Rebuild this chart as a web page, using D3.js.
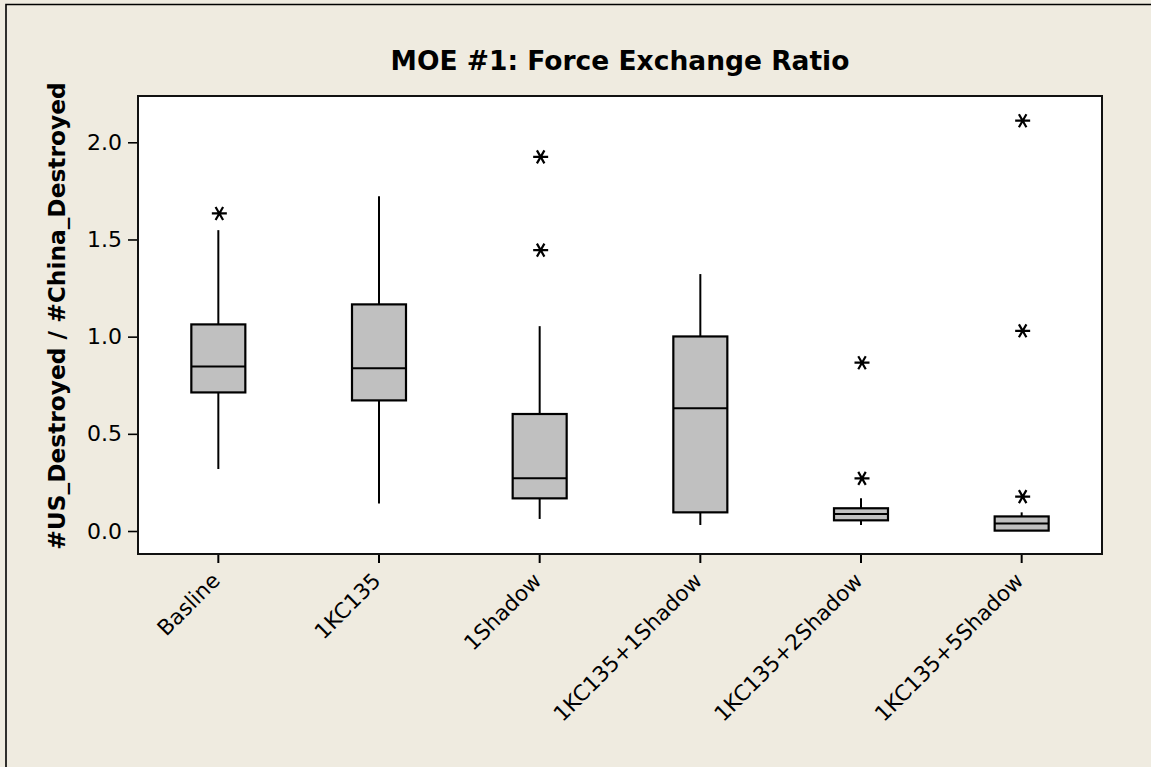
<!DOCTYPE html>
<html>
<head>
<meta charset="utf-8">
<script src="https://cdn.jsdelivr.net/npm/d3@7/dist/d3.min.js"></script>
<style>
  html, body { margin: 0; padding: 0; background: #efebe0; overflow: hidden; }
  svg { display: block; overflow: hidden; }
</style>
</head>
<body>
<svg id="chart" width="1151" height="767"></svg>
<script>
// ---- data ----
const categories = ["Basline", "1KC135", "1Shadow", "1KC135+1Shadow", "1KC135+2Shadow", "1KC135+5Shadow"];
const whiskerLow  = [0.319, 0.142, 0.062, 0.031, 0.031, 0.000];
const q1          = [0.713, 0.672, 0.168, 0.096, 0.055, 0.002];
const median      = [0.847, 0.837, 0.271, 0.631, 0.087, 0.038];
const q3          = [1.063, 1.166, 0.602, 1.001, 0.117, 0.075];
const whiskerHigh = [1.548, 1.723, 1.054, 1.322, 0.168, 0.096];
const outliers    = [[1.634], [], [1.925, 1.445], [], [0.866, 0.271], [2.111, 1.030, 0.177]];
const yTicks = [0.0, 0.5, 1.0, 1.5, 2.0];
const titleText = "MOE #1: Force Exchange Ratio";
const yLabel = "#US_Destroyed / #China_Destroyed";

// ---- layout ----
const svg = d3.select("#chart");
const W = 1151, H = 767;
const plot = { left: 138, top: 96, right: 1102, bottom: 554 };

svg.append("rect").attr("x", 0).attr("y", 0).attr("width", W).attr("height", H).attr("fill", "#efebe0");
// outer frame: only left and top edges are visible in the reference
svg.append("path").attr("d", `M6,${H}L6,4.5L${W},4.5`)
  .attr("fill", "none").attr("stroke", "#000").attr("stroke-width", 1.6);

const x = d3.scaleBand().domain(categories).range([plot.left, plot.right]).paddingInner(0).paddingOuter(0);
const y = d3.scaleLinear().domain([-0.1183, 2.2382]).range([plot.bottom, plot.top]);
const cx = d => x(d) + x.bandwidth() / 2;
const boxW = 54;

// plot background
svg.append("rect").attr("x", plot.left).attr("y", plot.top)
  .attr("width", plot.right - plot.left).attr("height", plot.bottom - plot.top)
  .attr("fill", "#ffffff");

// title
svg.append("text").attr("x", (plot.left + plot.right) / 2 + 0).attr("y", 70)
  .attr("text-anchor", "middle")
  .attr("font-family", "DejaVu Sans, Verdana, sans-serif").attr("font-weight", "bold")
  .attr("font-size", 26.5).attr("fill", "#000").text(titleText);

// y label
svg.append("text").attr("transform", `translate(65,${(82 + 550) / 2}) rotate(-90)`)
  .attr("text-anchor", "middle")
  .attr("font-family", "DejaVu Sans, Verdana, sans-serif").attr("font-weight", "bold")
  .attr("font-size", 23.3).attr("fill", "#000").text(yLabel);

// y axis
const yAxis = d3.axisLeft(y).tickValues(yTicks).tickFormat(d3.format(".1f")).tickSize(10).tickPadding(6);
const gy = svg.append("g").attr("transform", `translate(${plot.left},0)`).call(yAxis);
gy.select(".domain").remove();
gy.selectAll(".tick line").attr("stroke", "#000").attr("stroke-width", 1.6);
gy.selectAll(".tick text").attr("font-family", "DejaVu Sans, Verdana, sans-serif")
  .attr("font-size", 22).attr("fill", "#000");

// x axis
const xAxis = d3.axisBottom(x).tickSize(9).tickFormat("");
const gx = svg.append("g").attr("transform", `translate(0,${plot.bottom})`).call(xAxis);
gx.select(".domain").remove();
gx.selectAll(".tick line").attr("stroke", "#000").attr("stroke-width", 2);
svg.append("g").selectAll("text").data(categories).join("text")
  .attr("transform", d => `translate(${cx(d) + 3},582) rotate(-45)`)
  .attr("text-anchor", "end")
  .attr("font-family", "DejaVu Sans, Verdana, sans-serif")
  .attr("font-size", 21.5).attr("fill", "#000").text(d => d);

// boxes
const g = svg.append("g");
categories.forEach((c, i) => {
  const xc = cx(c);
  g.append("line").attr("x1", xc).attr("x2", xc).attr("y1", y(q3[i])).attr("y2", y(whiskerHigh[i]))
    .attr("stroke", "#000").attr("stroke-width", 2);
  g.append("line").attr("x1", xc).attr("x2", xc).attr("y1", y(q1[i])).attr("y2", y(whiskerLow[i]))
    .attr("stroke", "#000").attr("stroke-width", 2);
  g.append("rect").attr("x", xc - boxW / 2).attr("y", y(q3[i]))
    .attr("width", boxW).attr("height", y(q1[i]) - y(q3[i]))
    .attr("fill", "#c0c0c0").attr("stroke", "#000").attr("stroke-width", 2.2);
  g.append("line").attr("x1", xc - boxW / 2).attr("x2", xc + boxW / 2)
    .attr("y1", y(median[i])).attr("y2", y(median[i]))
    .attr("stroke", "#000").attr("stroke-width", 2);
  // outliers (asterisk: horizontal bar + two diagonals)
  outliers[i].forEach(v => {
    const r = 7.5;
    const a = r * Math.cos(Math.PI / 3), b = r * Math.sin(Math.PI / 3);
    const p = `M${-r},0L${r},0M${-a},${-b}L${a},${b}M${a},${-b}L${-a},${b}`;
    g.append("path").attr("d", p).attr("transform", `translate(${xc + 1},${y(v)})`)
      .attr("fill", "none").attr("stroke", "#000").attr("stroke-width", 2.2);
  });
});

// plot frame
svg.append("rect").attr("x", plot.left).attr("y", plot.top)
  .attr("width", plot.right - plot.left).attr("height", plot.bottom - plot.top)
  .attr("fill", "none").attr("stroke", "#111").attr("stroke-width", 2);
</script>
</body>
</html>
